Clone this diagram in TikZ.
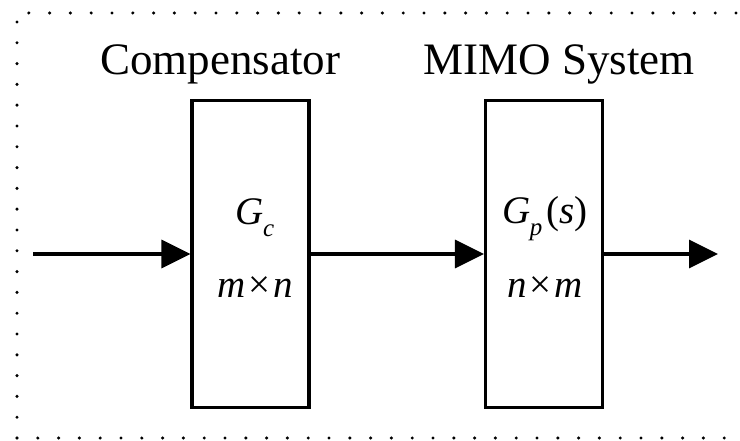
\documentclass[tikz,border=0pt]{standalone}
\usepackage{fontspec}
\setmainfont{Liberation Serif}
\usetikzlibrary{arrows.meta}
\tikzset{
  blk/.style={draw, line width=3.2pt, minimum width=117pt, minimum height=307pt, inner sep=0pt},
  sig/.style={line width=3.5pt, -{Triangle[length=29pt,width=28pt]}},
  lbl/.style={anchor=base, inner sep=0pt, font=\fontsize{45}{45}\selectfont},
  mth/.style={anchor=base, inner sep=0pt, font=\fontsize{39}{39}\selectfont\itshape},
  frame/.style={line width=3.4pt, line cap=round, dash pattern=on 0pt off 20.8pt}
}
\newcommand{\subsc}[1]{\raisebox{-0.3em}{\fontsize{25}{25}\selectfont\itshape #1}}
\begin{document}
\begin{tikzpicture}[x=1pt,y=-1pt]
\useasboundingbox (0,0) rectangle (740,441);
\draw[frame] (17,438) -- (17,13) -- (760,13);
\draw[frame] (17,438) -- (760,438);
\node[blk] (gc) at (250.5,254) {};
\node[blk] (gp) at (544,254) {};
\coordinate (in) at (33,254);
\coordinate (out) at (718,254);
\draw[sig] (in) -- (gc.west);
\draw[sig] (gc.east) -- (gp.west);
\draw[sig] (gp.east) -- (out);
\node[lbl] (t1) at (220,75) {Compensator};
\node[lbl] (t2) at (559,75) {MIMO System};
\node[mth] (g1) at (255,225) {G\kern-1pt\subsc{c}};
\node[mth] (d1) at (255,298) {m\kern3pt{\upshape ×}\kern3pt n};
\node[mth] (g2) at (545,224) {G\kern-1pt\subsc{p}\kern4pt{\upshape(}s{\upshape)}};
\node[mth] (d2) at (545,298) {n\kern3pt{\upshape ×}\kern3pt m};
\end{tikzpicture}
\end{document}
